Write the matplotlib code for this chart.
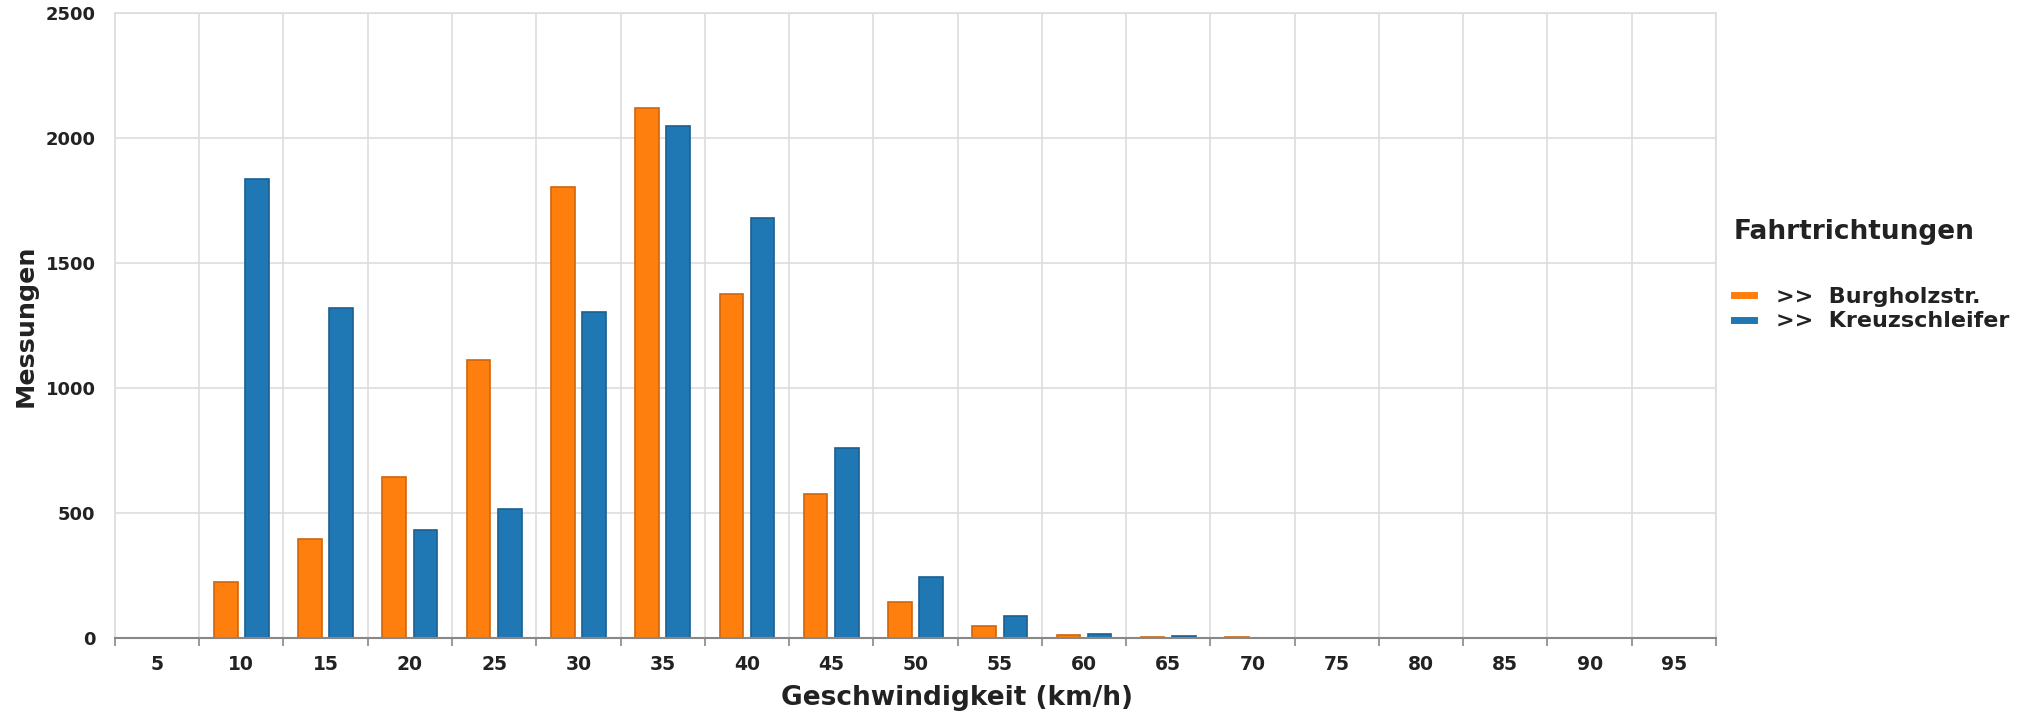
import numpy as np
import matplotlib
matplotlib.use("Agg")
import matplotlib.pyplot as plt
from matplotlib.lines import Line2D

speeds = [5, 10, 15, 20, 25, 30, 35, 40, 45, 50, 55, 60, 65, 70, 75, 80, 85, 90, 95]
burgholz = [0, 223, 395, 645, 1112, 1804, 2121, 1377, 577, 146, 47, 11, 3, 3, 0, 0, 0, 0, 2]
kreuz = [0, 1835, 1320, 431, 515, 1305, 2048, 1679, 759, 244, 88, 18, 10, 0, 2, 0, 2, 2, 0]
series_names = [">>  Burgholzstr.", ">>  Kreuzschleifer"]

orange = "#ff7f0e"
blue = "#1f77b4"

plt.rcParams['font.family'] = ['DejaVu Sans']
plt.rcParams['font.weight'] = 'bold'

fig = plt.figure(figsize=(20.38, 7.17), dpi=100)
ax = fig.add_axes([0.0564, 0.110, 0.7856, 0.872])

x = np.arange(len(speeds))
w = 0.28
off = 0.185
ax.bar(x - off, burgholz, w, color=orange, edgecolor="#d0650b", linewidth=1.2, zorder=3)
ax.bar(x + off, kreuz, w, color=blue, edgecolor="#1a5f92", linewidth=1.2, zorder=3)

ax.set_xlim(-0.5, len(speeds) - 0.5)
ax.set_ylim(0, 2500)
ax.set_yticks(np.arange(0, 2501, 500))
ax.set_xticks(x)
ax.set_xticklabels([str(s) for s in speeds])
ax.set_xticks(np.arange(-0.5, len(speeds)), minor=True)

ax.grid(True, which="minor", axis="x", color="#dddddd", linewidth=1.2, zorder=0)
ax.grid(True, which="major", axis="y", color="#dddddd", linewidth=1.2, zorder=0)
ax.tick_params(axis="x", which="major", length=0, pad=12, labelsize=13.5, colors="#222222")
ax.tick_params(axis="x", which="minor", length=6, width=1.2, color="#888888", direction="out")
ax.tick_params(axis="y", length=0, pad=14, labelsize=13, colors="#222222")

for s in ["top", "left", "right"]:
    ax.spines[s].set_color("#dddddd")
    ax.spines[s].set_linewidth(1.2)
ax.spines["bottom"].set_color("#888888")
ax.spines["bottom"].set_linewidth(1.5)
ax.spines["bottom"].set_zorder(4)

ax.set_xlabel("Geschwindigkeit (km/h)", fontsize=19, fontweight="bold", color="#222222", labelpad=10)
ax.xaxis.set_label_coords(0.526, -0.075)
ax.set_ylabel("Messungen", fontsize=18.3, fontweight="bold", color="#222222", labelpad=6)

handles = [Line2D([0], [0], color=orange, linewidth=5),
           Line2D([0], [0], color=blue, linewidth=5)]
leg = fig.legend(handles, series_names, loc="upper left", bbox_to_anchor=(0.841, 0.722),
                 frameon=False, title="Fahrtrichtungen", handlelength=0.9,
                 handletextpad=1.0, labelspacing=0.2,
                 prop={"size": 16, "weight": "bold"},
                 title_fontproperties={"size": 19, "weight": "bold"})
leg._legend_box.align = "left"
leg.get_title().set_color("#222222")
for t in leg.get_texts():
    t.set_color("#222222")
leg._legend_box.sep = 30

fig.savefig("out.png", dpi=100, facecolor="white")
